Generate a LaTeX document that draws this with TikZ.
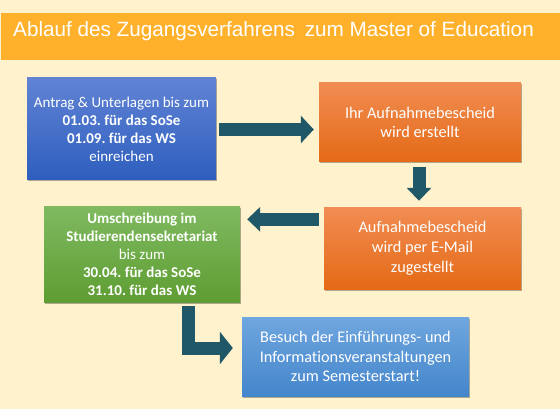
\documentclass[tikz,border=0pt]{standalone}
\usepackage{fontspec}
\setmainfont{Carlito}[Ligatures={NoCommon}]
\newfontfamily\titlefont{Liberation Sans}
\usetikzlibrary{arrows.meta,calc,shadows}
\definecolor{cream}{RGB}{255,242,204}
\definecolor{band}{RGB}{255,177,43}
\definecolor{arrowteal}{RGB}{33,88,104}
\definecolor{bluetop}{RGB}{96,131,212}
\definecolor{bluebot}{RGB}{46,94,190}
\definecolor{orangetop}{RGB}{241,140,82}
\definecolor{orangebot}{RGB}{228,106,22}
\definecolor{greentop}{RGB}{127,186,96}
\definecolor{greenbot}{RGB}{94,157,50}
\definecolor{skytop}{RGB}{111,166,222}
\definecolor{skybot}{RGB}{68,134,204}
\tikzset{
  box/.style={rectangle,inner sep=0pt,align=center,text=white,
    drop shadow={shadow xshift=1pt,shadow yshift=-1.5pt,opacity=.3,fill=black}},
  smalltext/.style={font=\fontsize{15}{18}\selectfont},
  bigtext/.style={font=\fontsize{16.3}{19.8}\selectfont},
  blockarrow/.style={draw=arrowteal,line width=13pt,line join=miter,
    -{Triangle[length=13pt,width=#1]}},
  blockarrow/.default=27pt
}
\begin{document}
\frenchspacing
\begin{tikzpicture}[x=1pt,y=-1pt]
	\useasboundingbox (0,0) rectangle (560,409);
	\fill[cream] (0,0) rectangle (560,409);
	% title band
	\fill[band] (1,13) rectangle (560,60);
	\node[anchor=base west,inner sep=0pt,text=white,font=\titlefont\fontsize{20.7}{24}\selectfont] (title) at (13,37) {Ablauf des Zugangsverfahrens\hspace{4pt} zum Master of Education};
	% steps
	\node[box,smalltext,top color=bluetop,bottom color=bluebot,minimum width=189pt,minimum height=102pt] (antrag) at (121.5,129) {Antrag \& Unterlagen bis zum\\ \textbf{01.03. für das SoSe}\\ \textbf{01.09. für das WS}\\ einreichen};
	\node[box,bigtext,top color=orangetop,bottom color=orangebot,minimum width=202pt,minimum height=79pt] (bescheid) at (420,122.5) {Ihr Aufnahmebescheid\\ wird erstellt};
	\node[box,bigtext,top color=orangetop,bottom color=orangebot,minimum width=197pt,minimum height=81pt] (mail) at (422.5,248.5) {Aufnahmebescheid\\ wird per E-Mail\\ zugestellt};
	\node[box,smalltext,top color=greentop,bottom color=greenbot,minimum width=196pt,minimum height=95pt] (umschreibung) at (142,254.5) {\textbf{Umschreibung im}\\ \textbf{Studierendensekretariat}\\ bis zum\\ \textbf{30.04. für das SoSe}\\ \textbf{31.10. für das WS}};
	\node[box,bigtext,top color=skytop,bottom color=skybot,minimum width=227pt,minimum height=79pt] (besuch) at (355.5,356.5) {Besuch der Einführungs- und\\ Informationsveranstaltungen\\ zum Semesterstart!};
	% arrows
	\draw[blockarrow] ($(antrag.east)+(3,0.5)$) -- ($(antrag.east -| bescheid.west)+(-5,0.5)$);
	\draw[blockarrow=24pt] ($(bescheid.south)+(-1,5)$) -- ($(bescheid.south |- mail.north)+(-1,-7)$);
	\draw[blockarrow=24pt] ($(mail.north west)+(-5,11.5)$) -- ($(umschreibung.north east)+(7,12.5)$);
	\draw[blockarrow=32pt] ($(umschreibung.south)+(46.5,4)$) |- ($(besuch.west)+(-9,-8.5)$);
\end{tikzpicture}
\end{document}
